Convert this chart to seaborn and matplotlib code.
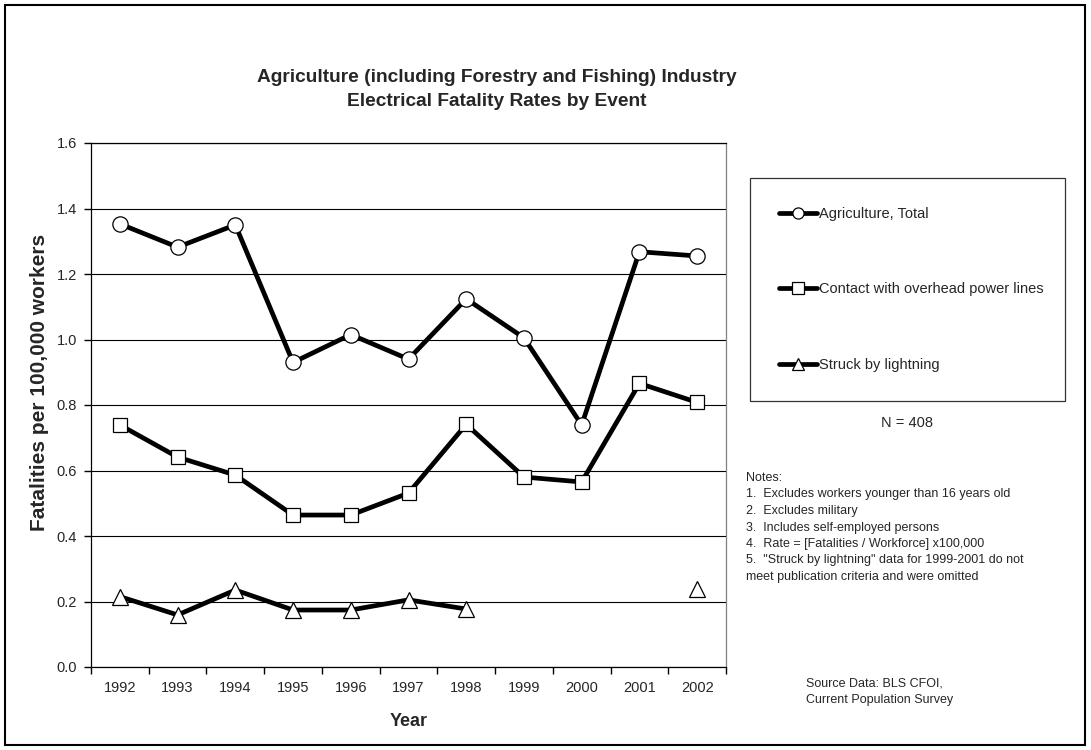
import numpy as np
import pandas as pd
import matplotlib
matplotlib.use("Agg")
import matplotlib.pyplot as plt
import matplotlib.patches as mpatches
from matplotlib.lines import Line2D
import seaborn as sns

years = ["1992", "1993", "1994", "1995", "1996", "1997", "1998", "1999", "2000", "2001", "2002"]
total = [1.353, 1.282, 1.350, 0.930, 1.015, 0.940, 1.124, 1.005, 0.739, 1.268, 1.255]
power_lines = [0.739, 0.641, 0.586, 0.464, 0.464, 0.531, 0.741, 0.580, 0.565, 0.866, 0.808]
lightning = [0.215, 0.159, 0.235, 0.174, 0.174, 0.205, 0.177, np.nan, np.nan, np.nan, 0.238]
series_names = ["Agriculture, Total", "Contact with overhead power lines", "Struck by lightning"]
series_markers = ["o", "s", "^"]
y_ticks = [0.0, 0.2, 0.4, 0.6, 0.8, 1.0, 1.2, 1.4, 1.6]

sns.set_style("white")
plt.rcParams["font.family"] = ["Liberation Sans", "DejaVu Sans"]

fig = plt.figure(figsize=(10.91, 7.5), dpi=100)
ax = fig.add_axes([91 / 1091, 1 - 667 / 750, (726 - 91) / 1091, (667 - 143) / 750])

pos = np.arange(len(years))
all_series = [total, power_lines, lightning]
for name, vals, mk in zip(series_names, all_series, series_markers):
    df = pd.DataFrame({"x": pos, "y": vals})
    df["seg"] = df["y"].isna().cumsum()
    df = df.dropna()
    for _, sub in df.groupby("seg"):
        sns.lineplot(data=sub, x="x", y="y", ax=ax, color="black", linewidth=3.4,
                     marker=mk, markersize=11 if mk != "s" else 10,
                     markerfacecolor="white", markeredgecolor="black",
                     markeredgewidth=0.9, legend=False, estimator=None, sort=False)

ax.set_xlim(-0.5, len(years) - 0.5)
ax.set_ylim(0, 1.6)
ax.set_yticks(y_ticks)
ax.set_yticklabels([f"{v:.1f}" for v in y_ticks], fontsize=10.5)
ax.set_xticks(np.arange(-0.5, len(years), 1.0))
ax.set_xticklabels([])
ax.set_xticks(pos, minor=True)
ax.set_xticklabels(years, minor=True, fontsize=10.5)
ax.tick_params(axis="x", which="major", direction="out", length=5, width=1, color="black", bottom=True)
ax.tick_params(axis="x", which="minor", length=0, pad=10, bottom=True)
ax.tick_params(axis="y", direction="out", length=5, width=1, color="black", left=True, pad=5)
for v in y_ticks:
    ax.axhline(v, color="black", linewidth=0.8, zorder=0)
for s in ax.spines.values():
    s.set_color("black")
    s.set_linewidth(0.9)
ax.spines["right"].set_color("#808080")
ax.set_xlabel("Year", fontsize=13, fontweight="bold", labelpad=13)
ax.set_ylabel("")
fig.text(40 / 1091, 1 - 382 / 750, "Fatalities per 100,000 workers", rotation=90,
         ha="center", va="center", fontsize=15, fontweight="bold")

fig.text(497 / 1091, 1 - 78 / 750, "Agriculture (including Forestry and Fishing) Industry",
         ha="center", va="center", fontsize=13.8, fontweight="bold")
fig.text(497 / 1091, 1 - 102 / 750, "Electrical Fatality Rates by Event",
         ha="center", va="center", fontsize=13.8, fontweight="bold")

handles = [Line2D([], [], color="black", linewidth=3.4, marker=mk, markersize=8,
                  markerfacecolor="white", markeredgecolor="black", markeredgewidth=0.9)
           for mk in series_markers]
leg = fig.legend(handles, series_names, loc="upper left",
                 bbox_to_anchor=(750 / 1091, 1 - 178 / 750 - 0.01, 315 / 1091, 0.01),
                 mode="expand", fontsize=10.5, frameon=True, fancybox=False,
                 handlelength=2.6, handletextpad=0.1, labelspacing=4.2,
                 borderpad=2.0, borderaxespad=0)
leg.get_frame().set_edgecolor("black")
leg.get_frame().set_linewidth(0.9)

fig.text(907 / 1091, 1 - 423 / 750, "N = 408", ha="center", va="center", fontsize=10.5)
notes = ["Notes:",
         "1.  Excludes workers younger than 16 years old",
         "2.  Excludes military",
         "3.  Includes self-employed persons",
         "4.  Rate = [Fatalities / Workforce] x100,000",
         "5.  \"Struck by lightning\" data for 1999-2001 do not",
         "meet publication criteria and were omitted"]
for i, line in enumerate(notes):
    fig.text(746 / 1091, 1 - (478 + i * 16.5) / 750, line, ha="left", va="center", fontsize=9)
fig.text(806 / 1091, 1 - 683 / 750, "Source Data: BLS CFOI,", ha="left", va="center", fontsize=9)
fig.text(806 / 1091, 1 - 700 / 750, "Current Population Survey", ha="left", va="center", fontsize=9)

fig.patches.append(mpatches.Rectangle((5 / 1091, 5 / 750), 1080 / 1091, 740 / 750,
                                      transform=fig.transFigure, fill=False,
                                      edgecolor="black", linewidth=1.5))

fig.savefig("out.png", dpi=100)
